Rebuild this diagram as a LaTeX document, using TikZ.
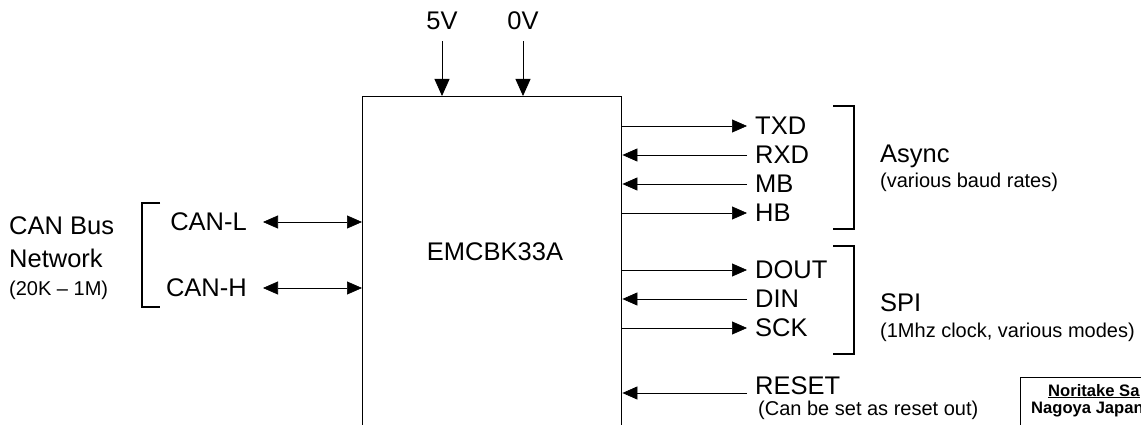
\documentclass[tikz,border=0pt]{standalone}
\usepackage{fontspec}
\setmainfont{Liberation Sans}
\usepackage{tikz}
\usetikzlibrary{positioning,arrows.meta}

\begin{document}
\begin{tikzpicture}[
  x=1pt, y=-1pt,
  chip/.style={rectangle, draw=black, line width=1.4pt, anchor=north west,
               minimum width=259pt, minimum height=420pt, inner sep=0pt},
  biglabel/.style={inner sep=0pt, font=\fontsize{25.5}{30}\selectfont},
  smalllabel/.style={inner sep=0pt, font=\fontsize{20}{24}\selectfont},
  vendortext/.style={inner sep=0pt, font=\fontsize{16.6}{19}\selectfont\bfseries},
  arr/.style={-{Triangle[length=15pt,width=13pt]}, line width=0.7pt},
  supply/.style={-{Triangle[length=17pt,width=15pt]}, line width=0.8pt},
  bidir/.style={{Triangle[length=15pt,width=13pt]}-{Triangle[length=15pt,width=13pt]},
                line width=0.7pt},
  brk/.style={line width=1.3pt},
  notebox/.style={rectangle, draw=black, line width=0.8pt, anchor=north west,
                  minimum width=200pt, minimum height=80pt}
]
\useasboundingbox (0,0) rectangle (1141,425);
\clip (0,0) rectangle (1141,425);

\node[chip] (chip) at (362,96) {};
\node[biglabel] (chipname) at (495,252) {EMCBK33A};

% supply
\node[biglabel, anchor=base] (vfive) at (442,30) {5V};
\node[biglabel, anchor=base] (vzero) at (523,30) {0V};
\draw[supply] ([yshift=-11pt]vfive.south) -- (vfive.south |- chip.north);
\draw[supply] ([yshift=-11pt]vzero.south) -- (vzero.south |- chip.north);

% async pins
\coordinate (txdpin) at (747,126);
\coordinate (rxdpin) at (747,155);
\coordinate (mbpin)  at (747,184);
\coordinate (hbpin)  at (747,213);
\node[biglabel, right=8pt of txdpin] (txd) {TXD};
\node[biglabel, right=8pt of rxdpin] (rxd) {RXD};
\node[biglabel, right=8pt of mbpin]  (mb)  {MB};
\node[biglabel, right=8pt of hbpin]  (hb)  {HB};
\draw[arr] (chip.east |- txdpin) -- (txdpin);
\draw[arr] (rxdpin) -- (chip.east |- rxdpin);
\draw[arr] (mbpin) -- (chip.east |- mbpin);
\draw[arr] (chip.east |- hbpin) -- (hbpin);

% spi pins
\coordinate (doutpin) at (747,270);
\coordinate (dinpin)  at (747,299);
\coordinate (sckpin)  at (747,328);
\node[biglabel, right=8pt of doutpin] (dout) {DOUT};
\node[biglabel, right=8pt of dinpin]  (din)  {DIN};
\node[biglabel, right=8pt of sckpin]  (sck)  {SCK};
\draw[arr] (chip.east |- doutpin) -- (doutpin);
\draw[arr] (dinpin) -- (chip.east |- dinpin);
\draw[arr] (chip.east |- sckpin) -- (sckpin);

% reset pin
\coordinate (resetpin) at (747,393);
\node[biglabel, right=8pt of resetpin, yshift=7pt] (reset) {RESET};
\node[smalllabel, anchor=base west] (resetnote) at (758,415) {(Can be set as reset out)};
\draw[arr] (resetpin) -- (chip.east |- resetpin);

% groups on the right
\draw[brk] (833,106) -- (854,106) -- (854,229) -- (833,229);
\draw[brk] (833,246) -- (854,246) -- (854,354) -- (833,354);
\node[biglabel, anchor=base west]   (async)     at (880,163) {Async};
\node[smalllabel, anchor=base west] (asyncnote) at (880,188) {(various baud rates)};
\node[biglabel, anchor=base west]   (spi)       at (880,311) {SPI};
\node[smalllabel, anchor=base west] (spinote)   at (880,337) {(1Mhz clock, various modes)};

% can bus
\coordinate (canlpin) at (263,222);
\coordinate (canhpin) at (263,288);
\node[biglabel, left=16pt of canlpin] (canl) {CAN-L};
\node[biglabel, left=16pt of canhpin] (canh) {CAN-H};
\draw[bidir] (canlpin) -- (chip.west |- canlpin);
\draw[bidir] (canhpin) -- (chip.west |- canhpin);
\draw[brk] (160,203) -- (142,203) -- (142,307) -- (160,307);
\node[biglabel, anchor=base west]   (canbus)  at (9,234) {CAN Bus};
\node[biglabel, anchor=base west]   (network) at (9,267) {Network};
\node[smalllabel, anchor=base west] (canrate) at (9,295) {(20K – 1M)};

% vendor box
\node[notebox] (vendor) at (1020,377) {};
\node[vendortext, anchor=base west] (vendorname) at (1048,396) {\underline{Noritake Sa}};
\node[vendortext, anchor=base west] (vendorcity) at (1031,413) {Nagoya Japan};

\end{tikzpicture}
\end{document}
